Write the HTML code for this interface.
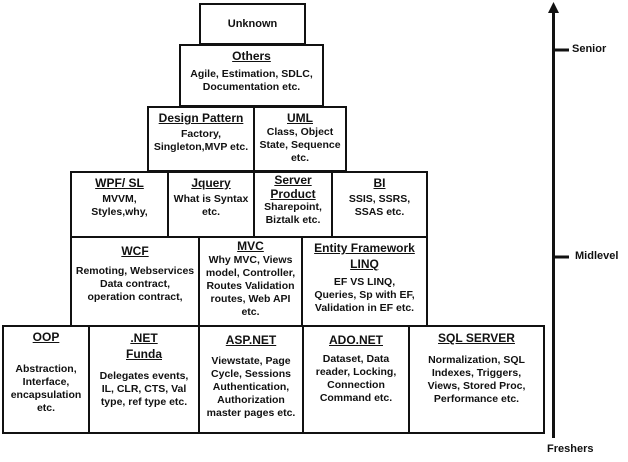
<!DOCTYPE html>
<html><head><meta charset="utf-8"><style>
body{margin:0;width:628px;height:462px;background:#fff;position:relative;overflow:hidden;font-family:"Liberation Sans",sans-serif;font-weight:bold;color:#111}
.b{position:absolute;border:2px solid #111;box-sizing:border-box;text-align:center;font-size:10.5px;line-height:13px;padding-top:3px;background:#fff}
.t{font-size:12px;text-decoration:underline;line-height:15px;margin-bottom:4px}
.l{position:absolute;font-size:11px}
</style></head><body>
<div class="b" style="left:199px;top:3px;width:107px;height:42px;padding-top:13px;font-size:11px">Unknown</div>
<div class="b" style="left:179px;top:44px;width:145px;height:63px"><div class="t">Others</div>Agile, Estimation, SDLC,<br>Documentation etc.</div>
<div class="b" style="left:147px;top:106px;width:108px;height:66px"><div class="t" style="margin-bottom:2px">Design Pattern</div>Factory,<br>Singleton,MVP etc.</div>
<div class="b" style="left:253px;top:106px;width:94px;height:66px"><div class="t" style="margin-bottom:0">UML</div>Class, Object<br>State, Sequence<br>etc.</div>
<div class="b" style="left:70px;top:171px;width:99px;height:67px"><div class="t" style="margin-bottom:2px">WPF/ SL</div>MVVM,<br>Styles,why,</div>
<div class="b" style="left:167px;top:171px;width:88px;height:67px"><div class="t" style="margin-bottom:2px">Jquery</div>What is Syntax<br>etc.</div>
<div class="b" style="left:253px;top:171px;width:80px;height:67px;padding-top:0"><div class="t" style="margin-bottom:0;line-height:14px">Server<br>Product</div>Sharepoint,<br>Biztalk etc.</div>
<div class="b" style="left:331px;top:171px;width:97px;height:67px"><div class="t" style="margin-bottom:2px">BI</div>SSIS, SSRS,<br>SSAS etc.</div>
<div class="b" style="left:70px;top:236px;width:130px;height:91px;padding-top:6px"><div class="t" style="margin-bottom:6px">WCF</div>Remoting, Webservices<br>Data contract,<br>operation contract,</div>
<div class="b" style="left:198px;top:236px;width:105px;height:91px;padding-top:1px"><div class="t" style="margin-bottom:0">MVC</div>Why MVC, Views<br>model, Controller,<br>Routes Validation<br>routes, Web API<br>etc.</div>
<div class="b" style="left:301px;top:236px;width:127px;height:91px;padding-top:2px"><div class="t" style="margin-bottom:4px;line-height:16px">Entity Framework<br>LINQ</div>EF VS LINQ,<br>Queries, Sp with EF,<br>Validation in EF etc.</div>
<div class="b" style="left:2px;top:325px;width:88px;height:109px"><div class="t" style="margin-bottom:18px">OOP</div>Abstraction,<br>Interface,<br>encapsulation<br>etc.</div>
<div class="b" style="left:88px;top:325px;width:112px;height:109px"><div class="t" style="margin-bottom:8px;line-height:16px">.NET<br>Funda</div>Delegates events,<br>IL, CLR, CTS, Val<br>type, ref type etc.</div>
<div class="b" style="left:198px;top:325px;width:106px;height:109px;padding-top:6px"><div class="t" style="margin-bottom:7px">ASP.NET</div>Viewstate, Page<br>Cycle, Sessions<br>Authentication,<br>Authorization<br>master pages etc.</div>
<div class="b" style="left:302px;top:325px;width:108px;height:109px;padding-top:6px"><div class="t" style="margin-bottom:5px">ADO.NET</div>Dataset, Data<br>reader, Locking,<br>Connection<br>Command etc.</div>
<div class="b" style="left:408px;top:325px;width:137px;height:109px;padding-top:4px"><div class="t" style="margin-bottom:8px">SQL SERVER</div>Normalization, SQL<br>Indexes, Triggers,<br>Views, Stored Proc,<br>Performance etc.</div>
<svg style="position:absolute;left:0;top:0" width="628" height="462">
<line x1="553.5" y1="10" x2="553.5" y2="438" stroke="#111" stroke-width="3"/>
<polygon points="553.5,2 548,13 559,13" fill="#111"/>
<line x1="553" y1="50" x2="569" y2="50" stroke="#111" stroke-width="3"/>
<line x1="553" y1="257" x2="569" y2="257" stroke="#111" stroke-width="3"/>
</svg>
<div class="l" style="left:572px;top:43px">Senior</div>
<div class="l" style="left:575px;top:250px">Midlevel</div>
<div class="l" style="left:547px;top:443px">Freshers</div>
</body></html>
